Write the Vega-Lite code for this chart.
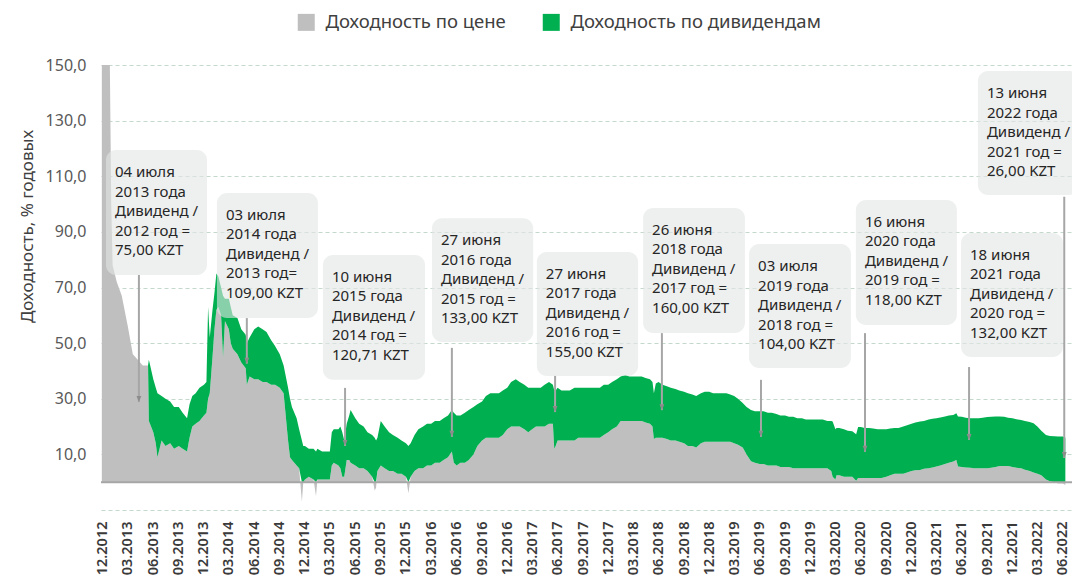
{
  "$schema": "https://vega.github.io/schema/vega-lite/v6.json",
  "width": 971,
  "height": 445,
  "autosize": {"type": "none"},
  "padding": {"left": 101, "top": 65, "right": 0, "bottom": 68},
  "background": "white",
  "config": {"font": "Noto Sans", "view": {"stroke": null}, "axis": {"labelOverlap": false}},
  "datasets": {
    "series": [
      {"d":"2012-11-27","price":170,"div":0},
      {"d":"2012-12-26","price":150,"div":0},
      {"d":"2012-12-31","price":100,"div":0},
      {"d":"2013-01-05","price":78,"div":0},
      {"d":"2013-01-20","price":72,"div":0},
      {"d":"2013-02-07","price":67,"div":0},
      {"d":"2013-03-01","price":56,"div":0},
      {"d":"2013-03-19","price":46,"div":0},
      {"d":"2013-04-06","price":44,"div":0},
      {"d":"2013-04-24","price":42,"div":0},
      {"d":"2013-05-13","price":42,"div":0},
      {"d":"2013-05-16","price":22,"div":22},
      {"d":"2013-06-01","price":18,"div":19},
      {"d":"2013-06-10","price":14,"div":20},
      {"d":"2013-06-16","price":9,"div":23},
      {"d":"2013-07-01","price":15,"div":16},
      {"d":"2013-07-15","price":13,"div":17},
      {"d":"2013-08-01","price":14,"div":15},
      {"d":"2013-08-15","price":12,"div":15},
      {"d":"2013-09-01","price":13,"div":14},
      {"d":"2013-09-15","price":12,"div":13},
      {"d":"2013-10-01","price":11,"div":12},
      {"d":"2013-10-10","price":16,"div":12},
      {"d":"2013-10-20","price":20,"div":11},
      {"d":"2013-11-01","price":21,"div":11},
      {"d":"2013-11-15","price":22,"div":12},
      {"d":"2013-12-01","price":24,"div":11},
      {"d":"2013-12-10","price":25,"div":11},
      {"d":"2013-12-16","price":30,"div":33},
      {"d":"2013-12-22","price":32,"div":20},
      {"d":"2014-01-01","price":45,"div":17},
      {"d":"2014-01-08","price":55,"div":13},
      {"d":"2014-01-15","price":62,"div":13},
      {"d":"2014-01-22","price":63,"div":11},
      {"d":"2014-02-01","price":60,"div":10},
      {"d":"2014-02-08","price":45,"div":22},
      {"d":"2014-02-15","price":58,"div":8},
      {"d":"2014-03-01","price":55,"div":11},
      {"d":"2014-03-08","price":50,"div":13},
      {"d":"2014-03-15","price":48,"div":12},
      {"d":"2014-04-01","price":46,"div":13},
      {"d":"2014-04-15","price":43,"div":12},
      {"d":"2014-05-01","price":41,"div":12},
      {"d":"2014-05-05","price":35,"div":15},
      {"d":"2014-05-15","price":38,"div":14},
      {"d":"2014-06-01","price":37,"div":18},
      {"d":"2014-06-15","price":37,"div":19},
      {"d":"2014-07-01","price":36,"div":19},
      {"d":"2014-07-15","price":36,"div":18},
      {"d":"2014-08-01","price":35,"div":16},
      {"d":"2014-08-15","price":35,"div":14},
      {"d":"2014-09-01","price":34,"div":12},
      {"d":"2014-09-15","price":32,"div":10},
      {"d":"2014-10-01","price":15,"div":19},
      {"d":"2014-10-08","price":9,"div":21},
      {"d":"2014-10-15","price":8,"div":19},
      {"d":"2014-11-01","price":6,"div":17},
      {"d":"2014-11-10","price":5,"div":14},
      {"d":"2014-11-20","price":-7,"div":15},
      {"d":"2014-11-25","price":0,"div":13},
      {"d":"2014-12-01","price":1,"div":12},
      {"d":"2014-12-15","price":2,"div":10},
      {"d":"2015-01-01","price":1,"div":11},
      {"d":"2015-01-10","price":-5,"div":11},
      {"d":"2015-01-15","price":1,"div":11},
      {"d":"2015-02-01","price":1,"div":10},
      {"d":"2015-02-15","price":1,"div":10},
      {"d":"2015-03-01","price":1,"div":10},
      {"d":"2015-03-08","price":6,"div":12},
      {"d":"2015-03-15","price":7,"div":12},
      {"d":"2015-04-01","price":6,"div":13},
      {"d":"2015-04-08","price":5,"div":15},
      {"d":"2015-04-15","price":2,"div":16},
      {"d":"2015-04-22","price":2,"div":13},
      {"d":"2015-05-01","price":8,"div":13},
      {"d":"2015-05-10","price":8,"div":16},
      {"d":"2015-05-15","price":7,"div":19},
      {"d":"2015-06-01","price":6,"div":17},
      {"d":"2015-06-15","price":5,"div":16},
      {"d":"2015-07-01","price":5,"div":15},
      {"d":"2015-07-15","price":4,"div":14},
      {"d":"2015-08-01","price":2,"div":15},
      {"d":"2015-08-10","price":-3,"div":16},
      {"d":"2015-08-15","price":-2,"div":15},
      {"d":"2015-08-20","price":4,"div":12},
      {"d":"2015-09-01","price":6,"div":16},
      {"d":"2015-09-15","price":5,"div":15},
      {"d":"2015-10-01","price":4,"div":14},
      {"d":"2015-10-15","price":4,"div":13},
      {"d":"2015-11-01","price":3,"div":13},
      {"d":"2015-11-15","price":3,"div":12},
      {"d":"2015-12-01","price":2,"div":12},
      {"d":"2015-12-10","price":-4,"div":13},
      {"d":"2015-12-18","price":2,"div":12},
      {"d":"2016-01-01","price":4,"div":13},
      {"d":"2016-01-15","price":5,"div":14},
      {"d":"2016-02-01","price":5,"div":15},
      {"d":"2016-02-15","price":6,"div":15},
      {"d":"2016-03-01","price":6,"div":15},
      {"d":"2016-03-15","price":7,"div":15},
      {"d":"2016-04-01","price":7,"div":15},
      {"d":"2016-04-15","price":8,"div":15},
      {"d":"2016-05-01","price":9,"div":15},
      {"d":"2016-05-15","price":11,"div":15},
      {"d":"2016-05-22","price":7,"div":18},
      {"d":"2016-06-01","price":6,"div":18},
      {"d":"2016-06-15","price":7,"div":17},
      {"d":"2016-07-01","price":7,"div":18},
      {"d":"2016-07-15","price":8,"div":18},
      {"d":"2016-08-01","price":10,"div":17},
      {"d":"2016-08-15","price":13,"div":15},
      {"d":"2016-09-01","price":15,"div":14},
      {"d":"2016-09-15","price":16,"div":15},
      {"d":"2016-10-01","price":16,"div":16},
      {"d":"2016-10-15","price":16,"div":16},
      {"d":"2016-11-01","price":16,"div":16},
      {"d":"2016-11-15","price":17,"div":16},
      {"d":"2016-12-01","price":19,"div":15},
      {"d":"2016-12-15","price":20,"div":16},
      {"d":"2017-01-01","price":20,"div":17},
      {"d":"2017-01-15","price":20,"div":16},
      {"d":"2017-02-01","price":19,"div":16},
      {"d":"2017-02-15","price":18,"div":16},
      {"d":"2017-03-01","price":19,"div":15},
      {"d":"2017-03-15","price":20,"div":14},
      {"d":"2017-04-01","price":20,"div":14},
      {"d":"2017-04-15","price":20,"div":15},
      {"d":"2017-05-01","price":21,"div":15},
      {"d":"2017-05-15","price":21,"div":14},
      {"d":"2017-05-20","price":12,"div":21},
      {"d":"2017-05-25","price":13,"div":20},
      {"d":"2017-06-01","price":15,"div":19},
      {"d":"2017-06-15","price":15,"div":18},
      {"d":"2017-07-01","price":15,"div":18},
      {"d":"2017-07-15","price":15,"div":18},
      {"d":"2017-08-01","price":15,"div":19},
      {"d":"2017-08-15","price":16,"div":18},
      {"d":"2017-09-01","price":16,"div":18},
      {"d":"2017-09-15","price":16,"div":18},
      {"d":"2017-10-01","price":16,"div":18},
      {"d":"2017-10-15","price":16,"div":18},
      {"d":"2017-11-01","price":16,"div":18},
      {"d":"2017-11-15","price":17,"div":18},
      {"d":"2017-12-01","price":18,"div":17},
      {"d":"2017-12-15","price":19,"div":17},
      {"d":"2018-01-01","price":20,"div":17},
      {"d":"2018-01-15","price":22,"div":16},
      {"d":"2018-02-01","price":22,"div":16.5},
      {"d":"2018-02-15","price":22,"div":16},
      {"d":"2018-03-01","price":22,"div":16},
      {"d":"2018-03-15","price":22,"div":16},
      {"d":"2018-04-01","price":22,"div":16},
      {"d":"2018-04-15","price":21.5,"div":16},
      {"d":"2018-05-01","price":21,"div":16},
      {"d":"2018-05-10","price":20,"div":16},
      {"d":"2018-05-15","price":15.5,"div":16.5},
      {"d":"2018-05-22","price":16,"div":19.5},
      {"d":"2018-06-01","price":16,"div":20},
      {"d":"2018-06-15","price":16,"div":19},
      {"d":"2018-07-01","price":15.5,"div":19},
      {"d":"2018-07-15","price":15,"div":19},
      {"d":"2018-08-01","price":15,"div":18.5},
      {"d":"2018-08-15","price":14.5,"div":18.5},
      {"d":"2018-09-01","price":14,"div":18.5},
      {"d":"2018-09-15","price":13,"div":19},
      {"d":"2018-10-01","price":13,"div":18.5},
      {"d":"2018-10-15","price":12.5,"div":18.5},
      {"d":"2018-11-01","price":14,"div":18},
      {"d":"2018-11-15","price":14.5,"div":18},
      {"d":"2018-12-01","price":14.5,"div":18},
      {"d":"2018-12-15","price":14.5,"div":17.5},
      {"d":"2019-01-01","price":14.5,"div":17.5},
      {"d":"2019-01-15","price":14.5,"div":17.5},
      {"d":"2019-02-01","price":14.5,"div":17.5},
      {"d":"2019-02-15","price":14.5,"div":17},
      {"d":"2019-03-01","price":14,"div":17},
      {"d":"2019-03-15","price":13.5,"div":16.5},
      {"d":"2019-04-01","price":12.5,"div":16},
      {"d":"2019-04-15","price":10,"div":17},
      {"d":"2019-05-01","price":7.5,"div":18.5},
      {"d":"2019-05-15","price":7,"div":18.5},
      {"d":"2019-06-01","price":6.5,"div":19},
      {"d":"2019-06-15","price":6.5,"div":19},
      {"d":"2019-07-01","price":6,"div":19},
      {"d":"2019-07-15","price":6,"div":19},
      {"d":"2019-08-01","price":6,"div":18.5},
      {"d":"2019-08-15","price":5.5,"div":18.5},
      {"d":"2019-09-01","price":5.5,"div":18.5},
      {"d":"2019-09-15","price":5.5,"div":18},
      {"d":"2019-10-01","price":5,"div":18.5},
      {"d":"2019-10-15","price":5,"div":18},
      {"d":"2019-11-01","price":5,"div":18},
      {"d":"2019-11-15","price":5,"div":17.5},
      {"d":"2019-12-01","price":5,"div":17.5},
      {"d":"2019-12-15","price":5,"div":17.5},
      {"d":"2020-01-01","price":5,"div":17.5},
      {"d":"2020-01-15","price":5,"div":17.5},
      {"d":"2020-02-01","price":5,"div":17},
      {"d":"2020-02-15","price":4,"div":18},
      {"d":"2020-02-20","price":2,"div":19.8},
      {"d":"2020-03-01","price":1,"div":18},
      {"d":"2020-03-05","price":2.5,"div":17},
      {"d":"2020-03-15","price":2.5,"div":17},
      {"d":"2020-04-01","price":2,"div":17},
      {"d":"2020-04-15","price":2,"div":16.5},
      {"d":"2020-05-01","price":2,"div":16.3},
      {"d":"2020-05-15","price":0.5,"div":16.7},
      {"d":"2020-05-22","price":1.5,"div":18.3},
      {"d":"2020-06-01","price":1.5,"div":18.3},
      {"d":"2020-06-15","price":1.5,"div":18},
      {"d":"2020-07-01","price":1.5,"div":18},
      {"d":"2020-07-15","price":1.5,"div":17.8},
      {"d":"2020-08-01","price":1.5,"div":17.5},
      {"d":"2020-08-15","price":1.5,"div":17.5},
      {"d":"2020-09-01","price":2,"div":17},
      {"d":"2020-09-15","price":2.5,"div":16.8},
      {"d":"2020-10-01","price":3,"div":16.5},
      {"d":"2020-10-15","price":3,"div":16.5},
      {"d":"2020-11-01","price":3,"div":17},
      {"d":"2020-11-15","price":3.5,"div":17},
      {"d":"2020-12-01","price":4,"div":17},
      {"d":"2020-12-15","price":4.3,"div":17.2},
      {"d":"2021-01-01","price":4.4,"div":17.4},
      {"d":"2021-01-15","price":4.8,"div":17.2},
      {"d":"2021-02-01","price":5,"div":17.5},
      {"d":"2021-02-15","price":5.3,"div":17.5},
      {"d":"2021-03-01","price":5.6,"div":17.4},
      {"d":"2021-03-15","price":6,"div":17.3},
      {"d":"2021-04-01","price":6.5,"div":17.1},
      {"d":"2021-04-15","price":7,"div":17},
      {"d":"2021-05-01","price":7.4,"div":16.8},
      {"d":"2021-05-12","price":8,"div":16.8},
      {"d":"2021-05-18","price":5.6,"div":18},
      {"d":"2021-06-01","price":5.5,"div":18},
      {"d":"2021-06-15","price":5.3,"div":17.9},
      {"d":"2021-07-01","price":5.2,"div":17.8},
      {"d":"2021-07-15","price":5,"div":18},
      {"d":"2021-08-01","price":5,"div":18},
      {"d":"2021-08-15","price":5,"div":18.2},
      {"d":"2021-09-01","price":5,"div":18.4},
      {"d":"2021-09-15","price":5.2,"div":18.3},
      {"d":"2021-10-01","price":5.5,"div":18.1},
      {"d":"2021-10-15","price":5.8,"div":17.8},
      {"d":"2021-11-01","price":5.8,"div":17.7},
      {"d":"2021-11-15","price":5.8,"div":17.4},
      {"d":"2021-12-01","price":5.5,"div":17.5},
      {"d":"2021-12-15","price":5.2,"div":17.4},
      {"d":"2022-01-01","price":5,"div":17.4},
      {"d":"2022-01-15","price":4.5,"div":17.5},
      {"d":"2022-02-01","price":4,"div":17.6},
      {"d":"2022-02-15","price":3.5,"div":17.7},
      {"d":"2022-03-01","price":3,"div":17},
      {"d":"2022-03-15","price":2.5,"div":16},
      {"d":"2022-04-01","price":1,"div":16},
      {"d":"2022-04-15","price":0.3,"div":16.3},
      {"d":"2022-05-01","price":0,"div":16.5},
      {"d":"2022-05-15","price":-0.5,"div":16.4},
      {"d":"2022-06-01","price":-0.5,"div":16.4},
      {"d":"2022-06-10","price":-1,"div":16}
    ],
    "notes": [
      {"x1":"2012-12-12","x2":"2013-12-12","top":119.4,"bottom":74.5,"ad":"2013-04-10","atop":74.5,"atip":28.8,"lines":["04 июля","2013 года","Дивиденд /","2012 год =","75,00 KZT"]},
      {"x1":"2014-01-17","x2":"2015-01-17","top":104,"bottom":59,"ad":"2014-05-05","atop":59,"atip":42.6,"lines":["03 июля","2014 года","Дивиденд /","2013 год=","109,00 KZT"]},
      {"x1":"2015-02-04","x2":"2016-02-08","top":81.7,"bottom":36.8,"ad":"2015-04-25","atop":33.9,"atip":13,"lines":["10 июня","2015 года","Дивиденд  /","2014 год =","120,71 KZT"]},
      {"x1":"2016-03-04","x2":"2017-03-05","top":94.9,"bottom":50.4,"ad":"2016-05-15","atop":48.3,"atip":16.3,"lines":["27 июня","2016 года","Дивиденд /","2015 год =","133,00 KZT"]},
      {"x1":"2017-03-18","x2":"2018-03-19","top":82.8,"bottom":38.2,"ad":"2017-05-23","atop":38.2,"atip":25.2,"lines":["27 июня","2017 года","Дивиденд /","2016  год =","155,00 KZT"]},
      {"x1":"2018-04-06","x2":"2019-04-09","top":98.6,"bottom":53.6,"ad":"2018-06-13","atop":53.6,"atip":25.9,"lines":["26 июня","2018 года","Дивиденд /","2017  год =","160,00 KZT"]},
      {"x1":"2019-04-24","x2":"2020-04-26","top":85.6,"bottom":41.1,"ad":"2019-06-06","atop":36.8,"atip":16.3,"lines":["03 июля","2019 года","Дивиденд /","2018  год =","104,00 KZT"]},
      {"x1":"2020-05-14","x2":"2021-05-14","top":101.5,"bottom":56.5,"ad":"2020-06-16","atop":53.6,"atip":10.9,"lines":["16 июня","2020 года","Дивиденд /","2019  год =","118,00 KZT"]},
      {"x1":"2021-05-29","x2":"2022-06-01","top":89.6,"bottom":45,"ad":"2021-06-27","atop":41.4,"atip":15.2,"lines":["18 июня","2021 года","Дивиденд /","2020  год =","132,00 KZT"]},
      {"x1":"2021-07-29","x2":"2022-07-29","top":147.8,"bottom":103.3,"ad":"2022-06-06","atop":102.6,"atip":8.7,"lines":["13 июня","2022 года","Дивиденд /","2021  год =","26,00 KZT"]}
    ],
    "base": [{"y": 0}]
  },
  "layer": [
    {
      "data": {"name": "series"},
      "transform": [{"fold": ["price", "div"], "as": ["series", "value"]}],
      "mark": {"type": "area", "clip": true, "interpolate": "linear"},
      "encoding": {
        "x": {
          "field": "d", "type": "temporal", "title": null,
          "scale": {"type": "utc", "domain": [{"year": 2012, "month": 11, "date": 24, "utc": true}, {"year": 2022, "month": 7, "date": 4, "utc": true}]},
          "axis": {
            "values": [1354320000000, 1362096000000, 1370044800000, 1377993600000, 1385856000000, 1393632000000, 1401580800000, 1409529600000, 1417392000000, 1425168000000, 1433116800000, 1441065600000, 1448928000000, 1456790400000, 1464739200000, 1472688000000, 1480550400000, 1488326400000, 1496275200000, 1504224000000, 1512086400000, 1519862400000, 1527811200000, 1535760000000, 1543622400000, 1551398400000, 1559347200000, 1567296000000, 1575158400000, 1583020800000, 1590969600000, 1598918400000, 1606780800000, 1614556800000, 1622505600000, 1630454400000, 1638316800000, 1646092800000, 1654041600000],
            "tickCount": 60,
            "format": "%m.%Y",
            "labelAngle": 270,
            "labelFontSize": 14.5,
            "labelFontWeight": 600,
            "labelColor": "#3a3a3a",
            "labelPadding": 11,
            "ticks": false,
            "tickSize": 0,
            "domain": false,
            "grid": false,
            "labelOverlap": false,
            "labelBound": false,
            "labelFlush": false
          }
        },
        "y": {
          "field": "value", "type": "quantitative", "stack": "zero", "title": "Доходность, % годовых",
          "scale": {"domain": [-10, 150], "nice": false, "zero": false},
          "axis": {
            "values": [-10, 10, 30, 50, 70, 90, 110, 130, 150],
            "tickCount": 20,
            "labelExpr": "datum.value == -10 ? '' : replace(format(datum.value, '.1f'), '.', ',')",
            "title": "Доходность, % годовых",
            "titleFontSize": 17,
            "titleFontWeight": "normal",
            "titleColor": "#404040",
            "titleX": -74,
            "titleY": 161,
            "titleAngle": 270,
            "titleBaseline": "middle",
            "titleAlign": "center",
            "labelFontSize": 16,
            "labelColor": "#595959",
            "labelPadding": 15,
            "ticks": false,
            "tickSize": 0,
            "domain": false,
            "grid": true,
            "gridColor": "#c5d8cc",
            "gridDash": [4, 3],
            "gridWidth": 1
          }
        },
        "color": {
          "field": "series", "type": "nominal",
          "scale": {"domain": ["price", "div"], "range": ["#bfbfbf", "#00b050"]},
          "legend": {
            "orient": "none", "legendX": 196, "legendY": -52, "direction": "horizontal",
            "title": null, "symbolType": "square", "symbolSize": 289, "symbolOpacity": 1, "symbolStrokeWidth": 0,
            "labelFontSize": 18.5, "labelColor": "#404040", "labelOffset": 10, "labelLimit": 400, "columnPadding": 36,
            "labelExpr": "datum.value == 'price' ? 'Доходность по цене' : 'Доходность по дивидендам'"
          }
        },
        "order": {"field": "series", "sort": "descending"}
      }
    },
    {
      "data": {"name": "base"},
      "mark": {"type": "rule", "color": "#a6a6a6", "strokeWidth": 2},
      "encoding": {"y": {"field": "y", "type": "quantitative", "title": "Доходность, % годовых"}}
    },
    {
      "data": {"name": "notes"},
      "mark": {"type": "rect", "cornerRadius": 10, "fill": "#e3e6e4", "opacity": 0.6},
      "encoding": {
        "x": {"field": "x1", "type": "temporal", "title": null},
        "x2": {"field": "x2"},
        "y": {"field": "top", "type": "quantitative", "title": "Доходность, % годовых"},
        "y2": {"field": "bottom"}
      }
    },
    {
      "data": {"name": "notes"},
      "mark": {"type": "text", "align": "left", "baseline": "top", "dx": 9, "dy": 15, "fontSize": 15, "lineHeight": 19.5, "color": "#262626"},
      "encoding": {
        "x": {"field": "x1", "type": "temporal", "title": null},
        "y": {"field": "top", "type": "quantitative", "title": "Доходность, % годовых"},
        "text": {"field": "lines"}
      }
    },
    {
      "data": {"name": "notes"},
      "mark": {"type": "rule", "color": "#a6a6a6", "strokeWidth": 2},
      "encoding": {
        "x": {"field": "ad", "type": "temporal", "title": null},
        "y": {"field": "atop", "type": "quantitative", "title": "Доходность, % годовых"},
        "y2": {"field": "atip"}
      }
    },
    {
      "data": {"name": "notes"},
      "mark": {"type": "point", "shape": "M-0.4,-1L0.4,-1L0,0Z", "size": 144, "filled": true, "fill": "#8c8c8c", "opacity": 1, "strokeWidth": 0},
      "encoding": {
        "x": {"field": "ad", "type": "temporal", "title": null},
        "y": {"field": "atip", "type": "quantitative", "title": "Доходность, % годовых"}
      }
    }
  ]
}
